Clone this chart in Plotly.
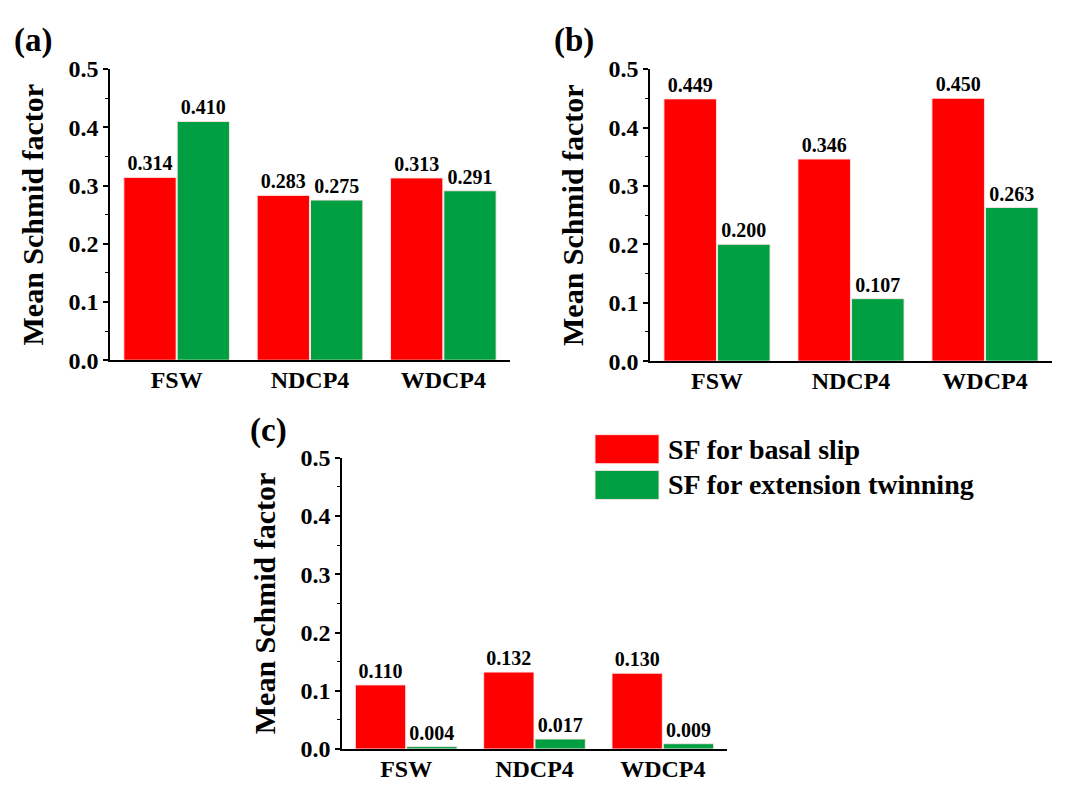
import plotly.graph_objects as go

categories = ["FSW", "NDCP4", "WDCP4"]
basal_a = [0.314, 0.283, 0.313]
twin_a = [0.410, 0.275, 0.291]
basal_b = [0.449, 0.346, 0.450]
twin_b = [0.200, 0.107, 0.263]
basal_c = [0.110, 0.132, 0.130]
twin_c = [0.004, 0.017, 0.009]
yticks = [0.0, 0.1, 0.2, 0.3, 0.4, 0.5]
series_names = ["SF for basal slip", "SF for extension twinning"]
panel_labels = ["(a)", "(b)", "(c)"]
y_title = "Mean Schmid factor"

W, H = 1072, 790
RED = "#FF0000"
GREEN = "#00A042"
FONT = "Liberation Serif, Times New Roman, serif"


def px(x):
    return x / W


def py(y):
    return 1 - y / H


fig = go.Figure()

panels = [
    (basal_a, twin_a, "x", "y"),
    (basal_b, twin_b, "x2", "y2"),
    (basal_c, twin_c, "x3", "y3"),
]
for basal, twin, xa, ya in panels:
    for vals, color, name in [(basal, RED, series_names[0]), (twin, GREEN, series_names[1])]:
        fig.add_trace(go.Bar(
            x=categories, y=vals, name=name, xaxis=xa, yaxis=ya,
            marker=dict(color=color, line=dict(color="rgba(255,230,230,0.9)", width=1)),
            texttemplate="<b>%{y:.3f}</b>", textposition="outside",
            textfont=dict(family=FONT, size=20, color="black"),
            constraintext="none", cliponaxis=False, showlegend=False,
        ))

domains = {
    "a": dict(x=[px(110), px(510)], y=[py(359), py(58)]),
    "b": dict(x=[px(650), px(1052)], y=[py(360), py(58)]),
    "c": dict(x=[px(342), px(727)], y=[py(761), py(460)]),
}


def xaxis(dom, anchor):
    return dict(domain=dom, anchor=anchor, showline=True, linecolor="black", linewidth=1.6,
                ticks="", showgrid=False, zeroline=False, ticklabelstandoff=-3,
                tickvals=categories, ticktext=["<b>%s</b>" % c for c in categories],
                tickfont=dict(family=FONT, size=24, color="black"))


def yaxis(dom, anchor):
    return dict(domain=dom, anchor=anchor, range=[0, 0.5], tickvals=yticks,
                ticktext=["<b>%.1f</b>" % v for v in yticks],
                showline=True, linecolor="black", linewidth=1.6, ticks="outside",
                ticklen=5, tickwidth=1.5, tickcolor="black", showgrid=False, zeroline=False,
                minor=dict(dtick=0.05, ticks="outside", ticklen=3, tickwidth=1, tickcolor="black"),
                tickfont=dict(family=FONT, size=24, color="black"),
                title=dict(text="<b>%s</b>" % y_title, standoff=16,
                           font=dict(family=FONT, size=30, color="black")))


fig.update_layout(
    width=W, height=H, margin=dict(l=0, r=0, t=0, b=0),
    paper_bgcolor="white", plot_bgcolor="white",
    font=dict(family=FONT, color="black"),
    barmode="group", bargap=0.2, bargroupgap=0.02,
    xaxis=xaxis(domains["a"]["x"], "y"), yaxis=yaxis(domains["a"]["y"], "x"),
    xaxis2=xaxis(domains["b"]["x"], "y2"), yaxis2=yaxis(domains["b"]["y"], "x2"),
    xaxis3=xaxis(domains["c"]["x"], "y3"), yaxis3=yaxis(domains["c"]["y"], "x3"),
)

# panel labels
for label, (x, y) in zip(panel_labels, [(12, 28), (552, 28), (248, 432)]):
    fig.add_annotation(text="<b>%s</b>" % label, xref="paper", yref="paper", x=px(x), y=py(y),
                       xanchor="left", yanchor="middle", showarrow=False,
                       font=dict(family=FONT, size=33, color="black"))

# legend boxes
for (y0, y1), color, name in [((436, 466), RED, series_names[0]), ((473, 503), GREEN, series_names[1])]:
    fig.add_shape(type="rect", xref="paper", yref="paper",
                  x0=px(595), x1=px(659), y0=py(y1), y1=py(y0),
                  fillcolor=color, line=dict(color="rgba(255,230,230,0.9)", width=1))
    fig.add_annotation(text="<b>%s</b>" % name, xref="paper", yref="paper", x=px(666), y=py((y0 + y1) / 2),
                       xanchor="left", yanchor="middle", showarrow=False,
                       font=dict(family=FONT, size=28, color="black"))

fig.write_html("out.html", config={"displayModeBar": False},
               post_script="document.body.style.margin='0';document.body.style.padding='0';")
